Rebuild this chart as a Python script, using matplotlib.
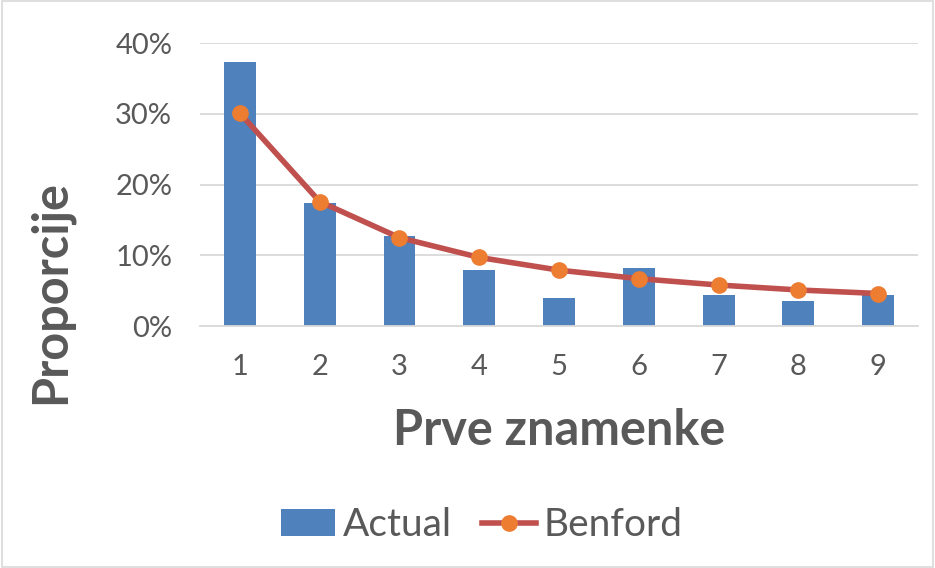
import numpy as np
import matplotlib.pyplot as plt
from matplotlib.patches import Rectangle
from matplotlib.ticker import PercentFormatter

plt.rcParams['font.family'] = ['Lato', 'DejaVu Sans']

# podaci
znamenke = [1, 2, 3, 4, 5, 6, 7, 8, 9]
actual = [0.373, 0.174, 0.127, 0.079, 0.040, 0.082, 0.044, 0.036, 0.044]
benford = [0.301, 0.176, 0.125, 0.097, 0.079, 0.067, 0.058, 0.051, 0.046]

fig = plt.figure(figsize=(9.35, 5.68), dpi=100)
ax = fig.add_axes([0.2139, 0.426, 0.768, 0.498])

bars = ax.bar(znamenke, actual, width=0.4, color='#4F81BD', label='Actual', zorder=2)
line, = ax.plot(znamenke, benford, color='#C0504D', lw=4, marker='o', ms=11,
                mfc='#ED7D31', mec='#ED7D31', label='Benford', zorder=3)

ax.set_xlim(0.5, 9.5)
ax.set_ylim(0, 0.4)
ax.set_yticks([0, 0.1, 0.2, 0.3, 0.4])
ax.yaxis.set_major_formatter(PercentFormatter(1.0, decimals=0))
ax.set_xticks(znamenke)
ax.grid(axis='y', color='#D9D9D9', lw=1.3, zorder=0)
for s in ['top', 'right', 'left']:
    ax.spines[s].set_visible(False)
ax.spines['bottom'].set_color('#D9D9D9')
ax.spines['bottom'].set_linewidth(1.3)
ax.tick_params(length=0, labelsize=21, colors='#595959')
ax.tick_params(axis='x', pad=20)
ax.tick_params(axis='y', pad=20)

ax.set_xlabel('Prve znamenke', fontsize=35, fontweight='bold', color='#595959')
ax.xaxis.set_label_coords(0.5, -0.37)
ax.set_ylabel('Proporcije', fontsize=35, fontweight='bold', color='#595959')
ax.yaxis.set_label_coords(-0.209, 0.12)
ax.yaxis.label.set_va('center')
ax.xaxis.label.set_va('center')

fig.legend([bars, line], ['Actual', 'Benford'], loc='center',
           bbox_to_anchor=(0.515, 0.075), ncol=2, frameon=False,
           fontsize=28, labelcolor='#595959', handlelength=1.4, handletextpad=0.18,
           columnspacing=0.77)

fig.patches.append(Rectangle((0.002, 0.002), 0.996, 0.996, transform=fig.transFigure,
                             fill=False, edgecolor='#D9D9D9', lw=1.2))

fig.savefig('out.png', dpi=100)
